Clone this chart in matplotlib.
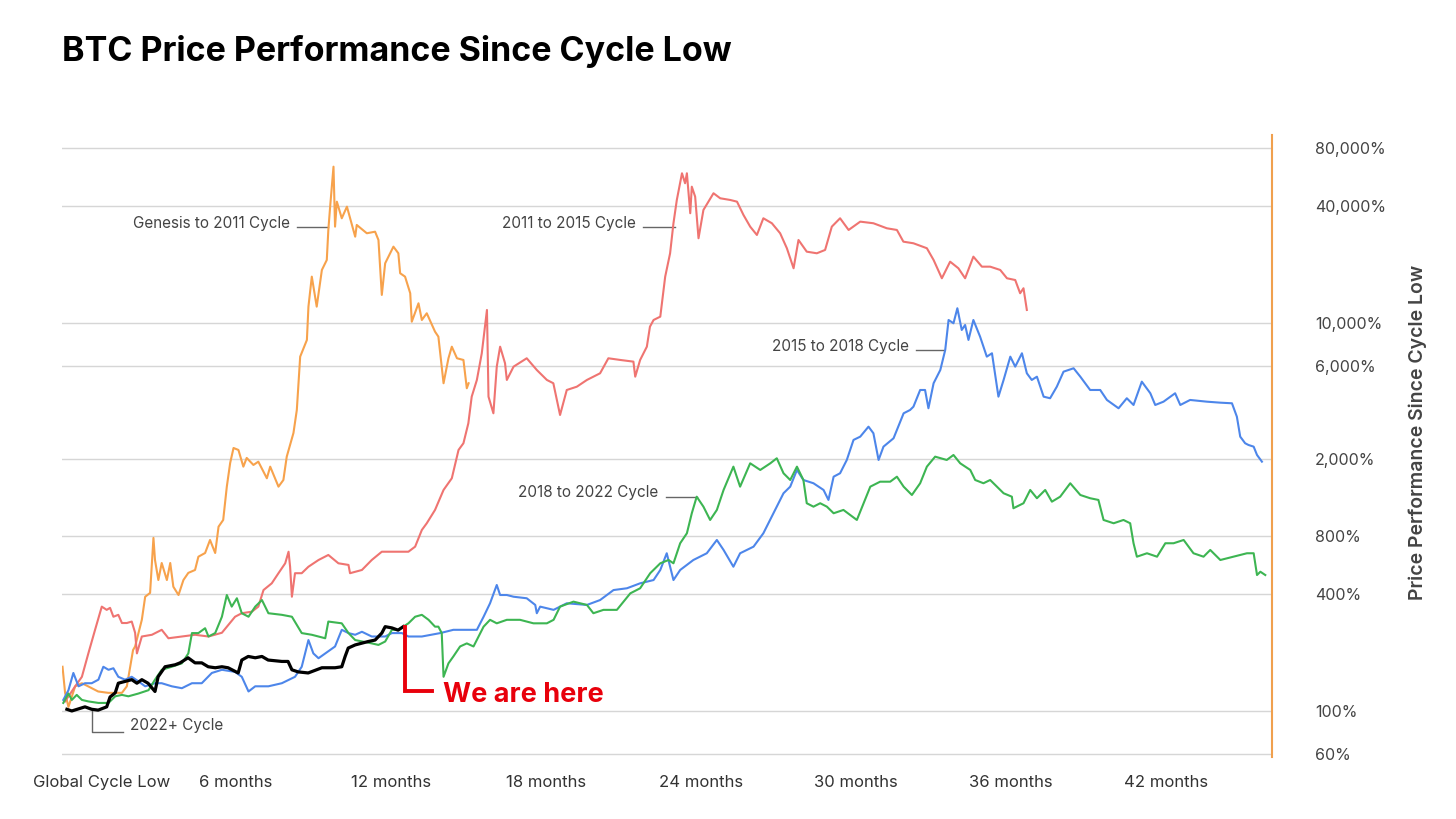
import matplotlib
matplotlib.use("Agg")
import matplotlib.pyplot as plt
import matplotlib.transforms as mtransforms

plt.rcParams["font.family"] = ["Inter", "DejaVu Sans"]

# ------------------------------------------------------------
# DATA  (months since cycle low, % performance)
# ------------------------------------------------------------

genesis_m = [-0.72, -0.62, -0.49, -0.23, 0.03, 0.27, 0.66, 1.05, 1.58, 1.77, 1.90, 2.01, 2.09, 2.35, 2.48,
             2.67, 2.80, 2.86, 2.99, 3.12, 3.32, 3.45, 3.57, 3.77, 3.96, 4.15, 4.41, 4.54, 4.80, 4.99,
             5.19, 5.32, 5.50, 5.64, 5.77, 5.90, 6.09, 6.28, 6.41, 6.67, 6.86, 7.19, 7.32, 7.64, 7.83,
             7.96, 8.22, 8.35, 8.48, 8.74, 8.80, 8.93, 9.12, 9.32, 9.51, 9.57, 9.64, 9.77, 9.83, 9.90,
             10.09, 10.29, 10.61, 10.67, 11.06, 11.38, 11.51, 11.64, 11.77, 12.09, 12.28, 12.35, 12.54,
             12.74, 12.80, 13.06, 13.19, 13.38, 13.70, 13.83, 14.03, 14.22, 14.35, 14.55, 14.80, 14.93, 15.00]
genesis_p = [169, 124, 105, 134, 139, 134, 126, 124, 124, 134, 169, 206, 215, 295, 388,
             406, 780, 600, 473, 579, 473, 579, 437, 396, 473, 515, 533, 624, 652, 761,
             652, 891, 965, 1433, 1898, 2268, 2215, 1817, 2015, 1854, 1928, 1583, 1817, 1433, 1551,
             2046, 2710, 3560, 6705, 8175, 12140, 17330, 12140, 18760, 21120, 30160, 39770, 63930, 31370, 42200,
             34650, 39770, 27850, 32010, 29000, 29550, 26780, 13950, 20310, 24740, 22870, 18040, 17330,
             14230, 10150, 12630, 10360, 11220, 9020, 8500, 4890, 6577, 7547, 6577, 6447, 4607, 4890]

c2011_m = [-0.62, -0.23, 0.03, 0.28, 0.54, 0.80, 0.99, 1.12, 1.25, 1.44, 1.58, 1.77, 1.96, 2.09, 2.16,
           2.35, 2.74, 3.12, 3.38, 3.90, 4.41, 4.93, 5.45, 5.96, 6.22, 6.61, 6.86, 7.06, 7.38, 7.64,
           7.90, 8.03, 8.09, 8.16, 8.28, 8.54, 8.80, 9.19, 9.57, 9.96, 10.35, 10.41, 10.87, 11.25, 11.64,
           12.16, 12.67, 12.93, 13.19, 13.38, 13.70, 14.03, 14.35, 14.61, 14.80, 14.99, 15.12, 15.32, 15.51,
           15.71, 15.77, 15.96, 16.09, 16.22, 16.41, 16.48, 16.74, 17.25, 17.64, 18.03, 18.28, 18.54, 18.80,
           19.19, 19.58, 20.09, 20.41, 20.87, 21.38, 21.45, 21.64, 21.90, 22.02, 22.16, 22.42, 22.61, 22.80,
           22.93, 23.06, 23.26, 23.38, 23.45, 23.58, 23.64, 23.77, 23.90, 24.09, 24.48, 24.74, 25.13, 25.39,
           25.64, 25.90, 26.16, 26.41, 26.74, 27.06, 27.32, 27.58, 27.77, 28.09, 28.48, 28.80, 29.06, 29.38,
           29.71, 30.16, 30.67, 31.19, 31.58, 31.83, 32.22, 32.74, 33.00, 33.32, 33.64, 33.96, 34.22, 34.54,
           34.87, 35.19, 35.58, 35.84, 36.16, 36.35, 36.48, 36.61]
c2011_p = [112, 134, 150, 198, 262, 345, 332, 340, 306, 313, 284, 284, 289, 253, 198,
           242, 247, 262, 237, 242, 247, 242, 253, 306, 319, 325, 345, 420, 455, 513,
           577, 662, 554, 388, 513, 513, 554, 600, 637, 577, 566, 513, 533, 600, 662,
           662, 662, 703, 857, 928, 1087, 1378, 1583, 2215, 2399, 3041, 4170, 5085, 6979,
           11670, 4170, 3423, 5954, 7547, 6201, 5085, 5954, 6577, 5723, 5085, 4890, 3355, 4514,
           4694, 5085, 5504, 6577, 6447, 6319, 5286, 6447, 7547, 9570, 10360, 10780, 17330, 22870,
           32660, 43050, 59110, 52500, 59110, 36780, 50420, 44770, 27330, 38240, 46630, 43930, 43050, 42200,
           36040, 31370, 28420, 34650, 32660, 29000, 24280, 19140, 26780, 23310, 22870, 23790, 31370, 34650,
           30160, 33290, 32660, 30770, 30160, 26250, 25750, 24280, 21120, 17000, 20700, 19140, 17000, 21970,
           19510, 19510, 18760, 17000, 16650, 14230, 15100, 11670]

c2015_m = [-0.69, -0.49, -0.30, -0.10, 0.15, 0.41, 0.67, 0.86, 1.06, 1.25, 1.44, 1.70, 1.96, 2.22, 2.48,
           2.86, 3.12, 3.51, 3.90, 4.29, 4.67, 5.06, 5.45, 5.96, 6.22, 6.48, 6.74, 7.25, 7.77, 8.28,
           8.54, 8.80, 8.99, 9.19, 9.45, 9.83, 10.09, 10.35, 10.61, 10.87, 11.25, 11.77, 12.03, 12.42, 12.67,
           13.19, 13.90, 14.41, 14.93, 15.32, 15.58, 15.83, 16.09, 16.22, 16.48, 16.74, 17.25, 17.58, 17.64,
           17.77, 18.29, 18.80, 19.58, 20.09, 20.61, 21.13, 21.64, 22.16, 22.42, 22.67, 22.93, 23.19, 23.70,
           24.22, 24.61, 24.87, 25.25, 25.51, 26.03, 26.41, 26.80, 27.19, 27.45, 27.71, 27.96, 28.35, 28.74,
           28.93, 29.13, 29.38, 29.64, 29.90, 30.16, 30.48, 30.67, 30.87, 31.06, 31.45, 31.84, 32.09, 32.22,
           32.48, 32.67, 32.80, 33.00, 33.26, 33.45, 33.58, 33.77, 33.92, 34.09, 34.22, 34.35, 34.54, 34.80,
           35.06, 35.26, 35.51, 35.71, 35.97, 36.16, 36.42, 36.61, 36.80, 37.00, 37.26, 37.51, 37.77, 38.03,
           38.42, 38.68, 39.06, 39.45, 39.71, 40.16, 40.48, 40.74, 41.06, 41.39, 41.58, 41.90, 42.35, 42.55,
           42.93, 43.58, 44.10, 44.55, 44.74, 44.87, 45.06, 45.19, 45.39, 45.52, 45.71]
c2015_p = [114, 128, 157, 134, 139, 139, 145, 169, 163, 166, 150, 145, 150, 142, 134,
           139, 139, 134, 131, 139, 139, 157, 163, 159, 150, 126, 134, 134, 139, 150,
           169, 232, 198, 187, 198, 215, 262, 252, 247, 256, 242, 242, 252, 252, 242,
           242, 252, 262, 262, 262, 306, 359, 446, 396, 396, 388, 381, 352, 319,
           345, 332, 359, 352, 373, 420, 429, 455, 473, 533, 650, 473, 533, 600,
           650, 761, 676, 554, 650, 703, 824, 1045, 1325, 1433, 1747, 1551, 1492, 1378,
           1224, 1613, 1680, 1967, 2495, 2594, 2921, 2701, 1967, 2304, 2545, 3423, 3560, 3703,
           4514, 4514, 3633, 4890, 5723, 7257, 10360, 9966, 11910, 9203, 9765, 8175, 10360, 8500,
           6705, 6979, 4170, 5085, 6705, 5954, 6979, 5504, 5085, 5286, 4170, 4092, 4694, 5610,
           5841, 5286, 4514, 4514, 4010, 3633, 4092, 3778, 4983, 4342, 3778, 3929, 4342, 3778,
           4010, 3929, 3883, 3855, 3289, 2594, 2399, 2350, 2304, 2087, 1928]

c2018_m = [-0.69, -0.49, -0.36, -0.17, 0.03, 0.28, 0.67, 1.06, 1.32, 1.58, 1.83, 2.22, 2.61, 2.86, 3.12,
           3.51, 3.90, 4.15, 4.29, 4.54, 4.80, 4.93, 5.19, 5.45, 5.64, 5.83, 6.03, 6.22, 6.48, 6.74,
           7.00, 7.25, 7.77, 8.16, 8.54, 8.93, 9.45, 9.57, 10.09, 10.35, 10.61, 11.25, 11.51, 11.77, 12.03,
           12.28, 12.67, 12.93, 13.19, 13.45, 13.70, 13.83, 13.96, 14.03, 14.22, 14.41, 14.67, 14.93, 15.19,
           15.58, 15.83, 16.09, 16.48, 16.99, 17.51, 18.03, 18.29, 18.54, 19.06, 19.58, 19.83, 20.22, 20.74,
           21.26, 21.64, 22.03, 22.42, 22.74, 22.93, 23.19, 23.45, 23.64, 23.83, 24.09, 24.35, 24.61, 24.87,
           25.25, 25.51, 25.90, 26.29, 26.68, 26.93, 27.19, 27.45, 27.71, 27.96, 28.09, 28.35, 28.61, 28.87,
           29.13, 29.51, 30.03, 30.29, 30.55, 30.93, 31.32, 31.58, 31.84, 32.16, 32.48, 32.74, 33.06, 33.51,
           33.77, 34.03, 34.42, 34.61, 34.93, 35.19, 35.45, 35.71, 36.03, 36.09, 36.48, 36.74, 37.00, 37.32,
           37.58, 37.90, 38.29, 38.68, 39.06, 39.38, 39.58, 39.97, 40.35, 40.61, 40.74, 40.87, 41.26, 41.65,
           41.97, 42.29, 42.68, 43.06, 43.45, 43.71, 44.10, 44.61, 45.13, 45.39, 45.52, 45.65, 45.84]
c2018_p = [110, 123, 114, 121, 114, 112, 110, 110, 119, 121, 119, 123, 128, 145, 163,
           169, 176, 198, 252, 252, 267, 242, 252, 306, 396, 345, 381, 319, 306, 345,
           373, 319, 313, 306, 252, 247, 237, 289, 283, 252, 232, 223, 219, 228, 262,
           262, 283, 306, 313, 295, 272, 272, 252, 150, 176, 191, 215, 223, 215,
           272, 295, 283, 295, 295, 283, 283, 295, 345, 366, 352, 319, 332, 332,
           404, 429, 513, 577, 600, 577, 732, 824, 1045, 1272, 1130, 965, 1087, 1378,
           1817, 1433, 1891, 1747, 1891, 2007, 1680, 1551, 1817, 1551, 1177, 1130, 1177, 1130,
           1045, 1087, 965, 1177, 1433, 1520, 1520, 1613, 1433, 1298, 1492, 1817, 2046, 1967,
           2087, 1891, 1747, 1551, 1492, 1551, 1433, 1325, 1272, 1109, 1177, 1378, 1249, 1378,
           1199, 1272, 1492, 1298, 1249, 1224, 965, 928, 965, 928, 732, 624, 650, 624,
           732, 732, 761, 650, 624, 676, 600, 624, 650, 650, 502, 522, 502]

c2022_m = [-0.55, -0.36, 0.15, 0.41, 0.66, 0.99, 1.12, 1.32, 1.44, 1.70, 1.96, 2.16, 2.35, 2.59, 2.86,
           2.98, 3.25, 3.64, 3.83, 4.14, 4.41, 4.67, 4.92, 5.19, 5.45, 5.69, 6.08, 6.22, 6.47, 6.74,
           7.00, 7.24, 7.77, 8.01, 8.16, 8.40, 8.79, 9.32, 9.83, 10.09, 10.22, 10.34, 10.61, 11.11, 11.38,
           11.64, 11.77, 12.03, 12.27, 12.47]
c2022_p = [102, 100, 105, 102, 101, 105, 118, 124, 139, 142, 145, 139, 145, 139, 126,
           150, 169, 173, 177, 188, 177, 177, 169, 167, 169, 167, 157, 183, 191, 188,
           191, 183, 180, 180, 163, 159, 157, 167, 167, 169, 191, 211, 219, 228, 232,
           252, 272, 268, 261, 272]

y_ticks = [60, 100, 400, 800, 2000, 6000, 10000, 40000, 80000]
x_ticks = [0, 6, 12, 18, 24, 30, 36, 42]
x_labels = ["Global Cycle Low", "6 months", "12 months", "18 months",
            "24 months", "30 months", "36 months", "42 months"]

series = [
    ("Genesis to 2011 Cycle", genesis_m, genesis_p, "#f7a24c"),
    ("2011 to 2015 Cycle", c2011_m, c2011_p, "#ef7471"),
    ("2015 to 2018 Cycle", c2015_m, c2015_p, "#4d86ea"),
    ("2018 to 2022 Cycle", c2018_m, c2018_p, "#3db552"),
]

# ------------------------------------------------------------
# FIGURE
# ------------------------------------------------------------

fig = plt.figure(figsize=(14.56, 8.19), dpi=100)
ax = fig.add_axes([62 / 1456, 1 - 757 / 819, 1210 / 1456, 622 / 819])

ax.set_yscale("log")
ax.set_ylim(57.9, 93100)
ax.set_xlim(-0.74, 46.1)

for name, m, p, color in series:
    ax.plot(m, p, color=color, linewidth=1.5, zorder=3)

ax.plot(c2022_m, c2022_p, color="black", linewidth=2.3, zorder=4)

# grid + axes
ax.set_yticks(y_ticks)
ax.set_yticklabels([f"{v:,}%" for v in y_ticks])
ax.minorticks_off()
ax.yaxis.tick_right()
ax.grid(axis="y", color="#d6d6d6", linewidth=1)
ax.set_axisbelow(True)
ax.tick_params(axis="y", length=0, pad=31, labelsize=11.5, labelcolor="#444444")

ax.set_xticks(x_ticks)
ax.set_xticklabels(x_labels)
ax.tick_params(axis="x", length=0, pad=13, labelsize=12, labelcolor="#333333")
shift = mtransforms.ScaledTranslation(21 / 100, 0, fig.dpi_scale_trans)
first = ax.get_xticklabels()[0]
first.set_transform(first.get_transform() + shift)

for side in ["top", "left", "bottom"]:
    ax.spines[side].set_visible(False)
ax.spines["right"].set_color("#f0a04e")
ax.spines["right"].set_linewidth(1.5)

# ------------------------------------------------------------
# ANNOTATIONS
# ------------------------------------------------------------

lab = dict(fontsize=11, color="#444444", ha="right", va="center")
lead = dict(color="#666666", linewidth=1)

ax.text(8.09, 32400, "Genesis to 2011 Cycle", **lab)
ax.plot([8.36, 9.56], [31300, 31300], **lead)

ax.text(21.49, 32400, "2011 to 2015 Cycle", **lab)
ax.plot([21.76, 23.0], [31300, 31300], **lead)

ax.text(32.06, 7520, "2015 to 2018 Cycle", **lab)
ax.plot([32.33, 33.41], [7230, 7230], **lead)

ax.text(22.34, 1330, "2018 to 2022 Cycle", **lab)
ax.plot([22.65, 23.85], [1268, 1268], **lead)

ax.text(1.90, 83.7, "2022+ Cycle", fontsize=11, color="#444444", ha="left", va="center")
ax.plot([0.43, 0.43, 1.63], [101, 78, 78], **lead)

ax.plot([c2022_m[-1] + 0.07, c2022_m[-1] + 0.07, 13.59], [c2022_p[-1], 126, 126],
        color="#e8000b", linewidth=2.8, solid_joinstyle="miter", zorder=5)
ax.text(14.01, 121, "We are here", fontsize=19.5, fontweight="bold",
        color="#e8000b", ha="left", va="center")

# ------------------------------------------------------------
# TITLES
# ------------------------------------------------------------

fig.text(62 / 1456, 1 - 52 / 819, "BTC Price Performance Since Cycle Low",
         fontsize=24.5, fontweight="bold", color="#000000", ha="left", va="center")

fig.text(1418 / 1456, 1 - 432 / 819, "Price Performance Since Cycle Low",
         fontsize=14, fontweight="semibold", color="#444444",
         rotation=90, ha="center", va="center")

fig.savefig("out.png", dpi=100, facecolor="white")
